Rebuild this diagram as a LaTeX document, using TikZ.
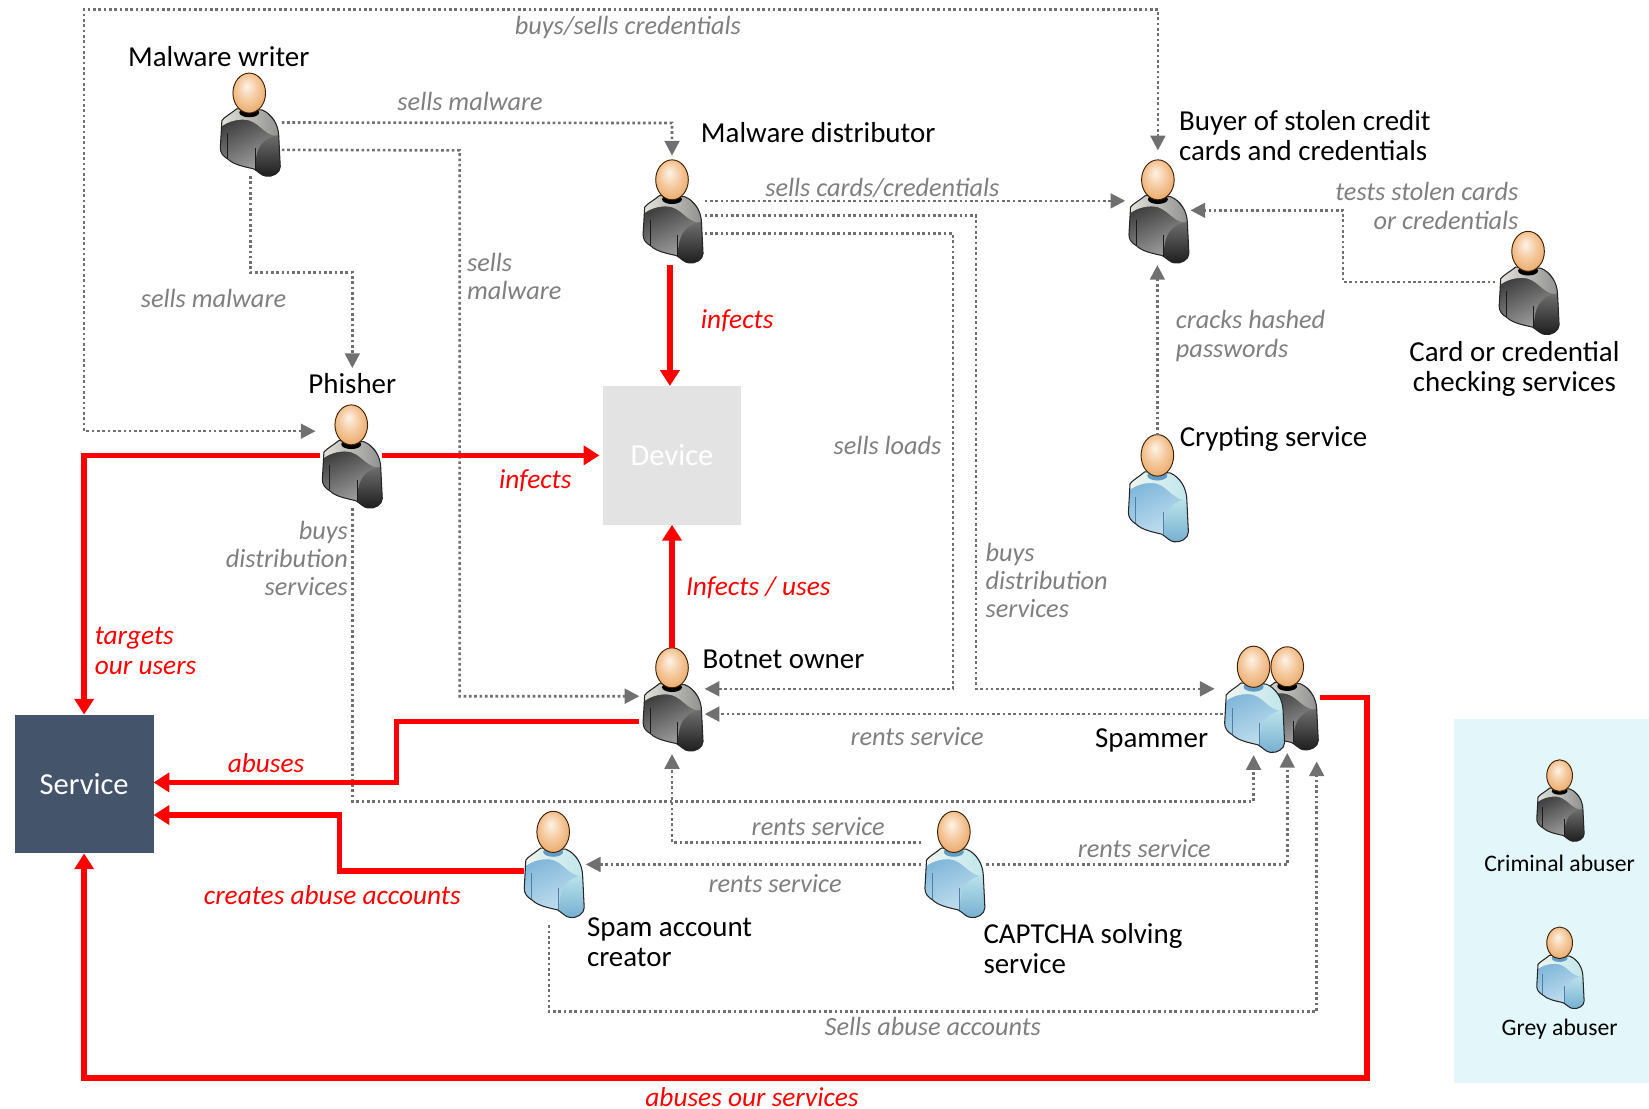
\documentclass[tikz,border=0pt]{standalone}
\usepackage{fontspec}
\setmainfont{Carlito}
\usetikzlibrary{arrows.meta}
\definecolor{blkA}{HTML}{2A2A2A}\definecolor{blkB}{HTML}{B8B8B8}\definecolor{blkC}{HTML}{E4E4DC}\definecolor{blkD}{HTML}{8C8C8C}\definecolor{blkE}{HTML}{707070}\definecolor{blkF}{HTML}{121212}\definecolor{blkG}{HTML}{000000}\definecolor{blkH}{HTML}{1A1A1A}
\definecolor{bluA}{HTML}{72AED6}\definecolor{bluB}{HTML}{D2E9F3}\definecolor{bluC}{HTML}{F0F5EE}\definecolor{bluD}{HTML}{BDE6EC}\definecolor{bluE}{HTML}{BCE4EA}\definecolor{bluF}{HTML}{6DA8CE}\definecolor{bluG}{HTML}{5F9CC8}\definecolor{bluH}{HTML}{4F7FA8}
\definecolor{dotgrey}{HTML}{707070}
\definecolor{labgrey}{HTML}{7F7F7F}
\definecolor{svc}{HTML}{44546A}
\definecolor{dev}{HTML}{E3E3E3}
\definecolor{legendbg}{HTML}{E3F7FB}
\definecolor{headA}{HTML}{FDF3E8}\definecolor{headB}{HTML}{F5C89B}\definecolor{headC}{HTML}{E29D58}\definecolor{headD}{HTML}{C87D34}
\pgfdeclareradialshading{headsh}{\pgfpoint{-4bp}{9bp}}{color(0bp)=(headA);color(16bp)=(headB);color(36bp)=(headC);color(50bp)=(headD)}
\tikzset{
  dotline/.style={draw=dotgrey,line width=2.5pt,dash pattern=on 2.5pt off 2.55pt,-{Triangle[length=14pt,width=14pt]}},
  dotboth/.style={dotline,{Triangle[length=14pt,width=14pt]}-{Triangle[length=14pt,width=14pt]}},
  redline/.style={draw=red,line width=5.2pt,-{Triangle[length=15pt,width=18pt]}},
  personbox/.style={minimum width=62pt,minimum height=98pt,inner sep=0pt,outer sep=0pt},
  blacktxt/.style={font=\fontsize{27.5}{29}\selectfont,text=black,inner sep=0pt},
  greytxt/.style={font=\fontsize{25}{27}\selectfont\itshape,text=labgrey,inner sep=0pt},
  redtxt/.style={font=\fontsize{26}{28}\selectfont\itshape,text=red,inner sep=0pt},
  smalltxt/.style={font=\fontsize{22.5}{24}\selectfont,text=black,inner sep=0pt},
  boxtxt/.style={minimum size=132pt,inner sep=0pt,outer sep=0pt,font=\fontsize{29}{30}\selectfont,text=white},
}
\newcommand\bodypath{(-26,26) .. controls (-24,23) and (-18,20) .. (-12,15) -- (12,16) .. controls (22,20) and (27.5,30) .. (28,40) -- (29.5,70) .. controls (29.5,76) and (22,80) .. (16,79) .. controls (12,79) and (8,74) .. (4,72) .. controls (-5,70) and (-15,68) .. (-20,63) .. controls (-25,60) and (-27.5,57) .. (-27.5,52) -- cycle}
% #1 kind, #2 x, #3 head y, #4 scale, #5 yscale factor
\newcommand\personglyph[5]{%
  \begin{scope}[shift={(#2,#3)},xscale=#4,yscale=#4*#5]
    \begin{scope}
      \clip \bodypath;
      \shade[top color=#1A,bottom color=#1B,shading angle=25] (-40,12) rectangle (36,85);
      \shade[left color=#1C,right color=#1D] (-28,28) -- (-12,13) -- (12,13) -- (31,36) -- (31,41) .. controls (15,42) and (12,30) .. (0,26) .. controls (-8,24) and (-20,26) .. (-28,33) -- cycle;
      \shade[top color=#1E,bottom color=#1F] (5.4,73) .. controls (6,50) and (13,42) .. (32,39) -- (32,85) -- (5,85) -- cycle;
    \end{scope}
    \draw[#1H,line width=.8pt] (-20.5,38) -- (-20.5,62) (5.4,52) -- (5.4,72);
    \draw[black!85,line width=1pt,line join=round] \bodypath;
    \fill[#1G] (0,18.5) ellipse (9.5 and 4.5);
    \path[shading=headsh,draw=black!75!orange,line width=.9pt] (0,0) ellipse (15.5 and 19);
  \end{scope}}
% #1 name, #2 kind, #3 x, #4 head y, #5 yscale factor
\newcommand\personnode[5]{\personglyph{#2}{#3}{#4}{1}{#5}\node[personbox] (#1) at (#3,#4+30) {};}
\begin{document}
\begin{tikzpicture}[x=1pt,y=-1pt]
\useasboundingbox (0,0) rectangle (1568,1053.6);
\fill[legendbg] (1383,684) rectangle (1568,1030);
\node[fill=dev,boxtxt] (device) at (639,433) {Device};
\node[fill=svc,boxtxt] (service) at (80,745.5) {Service};
\personnode{writer}{blk}{237}{88.5}{1}
\personnode{dist}{blk}{639}{171}{1}
\personnode{buyer}{blk}{1101}{171}{1}
\personnode{checker}{blk}{1453}{239}{1}
\personnode{phisher}{blk}{334}{404}{1}
\personnode{crypt}{blu}{1100.5}{433}{1.04}
\personnode{botnet}{blk}{639}{635}{1}
\personglyph{blk}{1224}{634}{1}{1}
\personglyph{blu}{1192}{634}{1}{1.03}
\node[minimum width=90pt,minimum height=98pt,inner sep=0pt,outer sep=0pt] (spammer) at (1208,665) {};
\personnode{creator}{blu}{526}{791}{1.03}
\personnode{captcha}{blu}{907}{791}{1.03}
\personglyph{blk}{1483}{737.5}{.79}{1}
\personglyph{blu}{1483}{896.5}{.79}{1}
% dotted connectors
\draw[dotboth] ([yshift=24pt,xshift=-3pt]phisher.west) -- (80,410) -- (80,9) -- (1101,9) -- ([yshift=9pt]buyer.north);
\draw[dotline] ([yshift=2pt]writer.east) -- (639,117) -- ([yshift=4pt]dist.north);
\draw[dotline] ([yshift=-24pt]writer.east) -- (437,143) -- (437,662) -- ([yshift=3pt]botnet.west);
\draw[dotline] ([xshift=1pt]writer.south) -- (238,259) -- (335,259) -- ([xshift=1pt,yshift=35pt]phisher.north);
\draw[dotline] ([yshift=10pt]dist.east) -- ([yshift=10pt]buyer.west);
\draw[dotline] ([yshift=-4pt]dist.east) -- (928,205) -- (928,655) -- ([xshift=-8pt,yshift=10pt]spammer.west);
\draw[dotline] ([yshift=-21pt]dist.east) -- (906,222) -- (906,655) -- ([yshift=10pt]botnet.east);
\draw[dotline] ([yshift=1pt]checker.west) -- (1277,268) -- (1277,200) -- ([yshift=1pt]buyer.east);
\draw[dotline] (crypt.north) -- ([yshift=-2pt]crypt.north |- buyer.south);
\draw[dotline] ([yshift=-14pt]spammer.west) -- ([yshift=-14pt]botnet.east);
\draw[dotline] ([xshift=1pt]phisher.south) -- (335,762) -- (1192,762) -- ([xshift=-16pt,yshift=-4pt]spammer.south);
\draw[dotline] ([yshift=20pt]captcha.west) -- (639,801) -- ([yshift=-3pt]botnet.south);
\draw[dotline] ([yshift=-1pt]captcha.west) -- ([yshift=-1pt]creator.east);
\draw[dotline] ([yshift=-1pt]captcha.east) -- (1224,822) -- ([xshift=16pt,yshift=-2pt]spammer.south);
\draw[dotline] ([xshift=-4pt,yshift=-10pt]creator.south) -- (522,962) -- (1252,962) -- ([xshift=44pt,yshift=-10pt]spammer.south);
% red connectors
\draw[redline] ([xshift=-2pt,yshift=-2pt]dist.south) -- ([xshift=-2pt]device.north);
\draw[redline] ([xshift=-2pt,yshift=1pt]phisher.east) -- ([xshift=-3pt]device.west);
\draw[redline] ([xshift=1pt,yshift=1pt]phisher.west) -- (80,433) -- (service.north);
\draw[redline] (botnet.north) -- (device.south);
\draw[redline] ([yshift=-21pt]botnet.west) -- (377,686) -- (377,744) -- ([yshift=1.5pt]service.east);
\draw[redline] ([xshift=3pt,yshift=-7pt]creator.west) -- (323,828) -- (323,775) -- ([yshift=-29.5pt]service.east);
\draw[redline] ([xshift=2pt,yshift=2pt]spammer.east) -- (1300,663) -- (1300,1025) -- (80,1025) -- (service.south);
% grey labels
\node[greytxt] (g1) at (597,26.5) {buys/sells credentials};
\node[greytxt] (g2) at (447,96.5) {sells malware};
\node[greytxt] (g3) at (203,284) {sells malware};
\node[greytxt,anchor=west,align=left] (g4) at (444,263) {sells\\malware};
\node[greytxt] (g5) at (839,179) {sells cards/credentials};
\node[greytxt,anchor=east,align=right] (g6) at (1444,196) {tests stolen cards\\or credentials};
\node[greytxt,anchor=west,align=left] (g7) at (1118,319.5) {cracks hashed\\passwords};
\node[greytxt] (g8) at (844,424) {sells loads};
\node[greytxt,anchor=east,align=right] (g9) at (331,531) {buys\\distribution\\services};
\node[greytxt,anchor=west,align=left] (g10) at (937,552) {buys\\distribution\\services};
\node[greytxt] (g11) at (872,700.5) {rents service};
\node[greytxt] (g12) at (778,785.5) {rents service};
\node[greytxt] (g13) at (737,840.5) {rents service};
\node[greytxt] (g14) at (1088,806.5) {rents service};
\node[greytxt] (g15) at (887,976) {Sells abuse accounts};
% red labels
\node[redtxt] (r1) at (701,305) {infects};
\node[redtxt] (r2) at (509,457) {infects};
\node[redtxt] (r3) at (721,558.5) {Infects / uses};
\node[redtxt,anchor=west,align=left] (r4) at (90,619) {targets\\our users};
\node[redtxt] (r5) at (253,726) {abuses};
\node[redtxt] (r6) at (316,851) {creates abuse accounts};
\node[redtxt] (r7) at (715,1043) {abuses our services};
% black labels
\node[blacktxt] (b1) at (208,54) {Malware writer};
\node[blacktxt] (b2) at (778,126.5) {Malware distributor};
\node[blacktxt,anchor=west,align=left] (b3) at (1121,129) {Buyer of stolen credit\\cards and credentials};
\node[blacktxt,align=center] (b4) at (1440,351) {Card or credential\\checking services};
\node[blacktxt] (b5) at (1211,417) {Crypting service};
\node[blacktxt] (b6) at (335,365) {Phisher};
\node[blacktxt] (b7) at (745,627) {Botnet owner};
\node[blacktxt] (b8) at (1095,704) {Spammer};
\node[blacktxt,anchor=west,align=left] (b9) at (558,896) {Spam account\\creator};
\node[blacktxt,anchor=west,align=left] (b10) at (935,902) {CAPTCHA solving\\service};
\node[smalltxt] (b11) at (1483,821) {Criminal abuser};
\node[smalltxt] (b12) at (1483,979) {Grey abuser};
\end{tikzpicture}
\end{document}
